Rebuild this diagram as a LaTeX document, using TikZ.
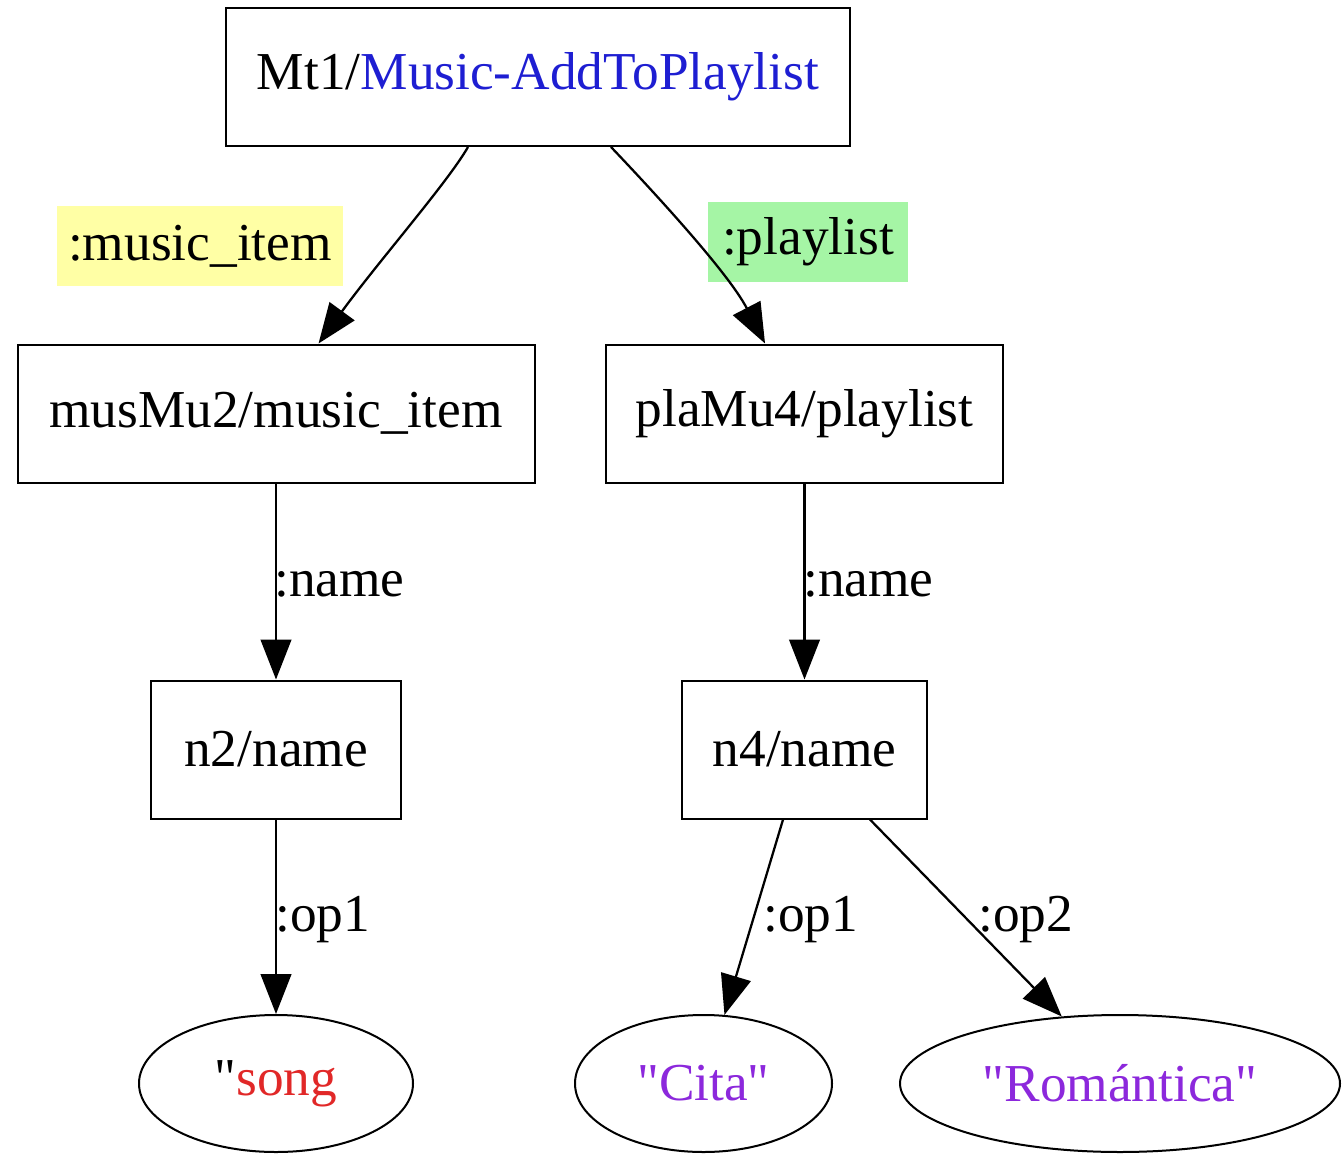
\documentclass[tikz,border=0pt]{standalone}
\usepackage{fontspec}
\setmainfont{Liberation Serif}[Ligatures=TeXOff]
\usetikzlibrary{arrows.meta,shapes.geometric}

\definecolor{conceptblue}{RGB}{30,30,210}
\definecolor{wordred}{RGB}{225,40,40}
\definecolor{wordpurple}{RGB}{140,40,220}
\definecolor{roleyellow}{RGB}{255,255,165}
\definecolor{rolegreen}{RGB}{165,245,165}

\tikzset{
  every node/.style={font=\fontsize{40pt}{48pt}\selectfont, inner sep=0pt},
  box/.style={draw, line width=1.5pt, rectangle, minimum height=103.5pt},
  leaf/.style={draw, line width=1.5pt, ellipse, minimum height=102.75pt},
  role/.style={anchor=base west},
  rolebox/.style={rectangle, minimum height=60pt},
  arr/.style={line width=1.7pt, -{Triangle[length=30pt,width=23pt]}},
}

\begin{document}
\begin{tikzpicture}[x=0.75pt, y=-0.75pt]
  \useasboundingbox (0,0) rectangle (1342,1159);

  % concept nodes
  \node[box, minimum width=468pt] (mt1) at (538,77)
    {Mt1/\textcolor{conceptblue}{Music-AddToPlaylist}};
  \node[box, minimum width=387.75pt] (mus) at (276,413.5) {musMu2/music\_item};
  \node[box, minimum width=297.75pt] (pla) at (804.5,413.5) {plaMu4/playlist};
  \node[box, minimum width=187.5pt] (n2) at (276,749.5) {n2/name};
  \node[box, minimum width=183.75pt] (n4) at (804.5,749.5) {n4/name};

  % string leaves
  \node[leaf, minimum width=205.5pt] (song) at (276,1083.5)
    {"\textcolor{wordred}{song}};
  \node[leaf, minimum width=192.75pt, text=wordpurple] (cita) at (703.5,1083.5) {"Cita"};
  \node[leaf, minimum width=330pt, text=wordpurple] (rom) at (1120,1083.5) {"Romántica"};

  % role labels
  \node[rolebox, fill=roleyellow, minimum width=214.5pt] (lmus) at (200,246) {:music\_item};
  \node[rolebox, fill=rolegreen, minimum width=150pt] (lpla) at (808,242) {:playlist};
  \node[role] (lname2) at (274,596) {:name};
  \node[role] (lname4) at (803,596) {:name};
  \node[role] (lop1a) at (275,931) {:op1};
  \node[role] (lop1b) at (763,931) {:op1};
  \node[role] (lop2) at (978,931) {:op2};

  % relations
  \draw[arr] ([xshift=-52.5pt]mt1.south) .. controls (448,182) and (378,262) .. ([xshift=31.9pt]mus.north);
  \draw[arr] ([xshift=54.75pt]mt1.south) .. controls (650,188) and (728,272) .. ([xshift=-29.6pt]pla.north);
  \draw[arr] (mus.south) -- (n2.north);
  \draw[arr] (pla.south) -- (n4.north);
  \draw[arr] (n2.south) -- (song.north);
  \draw[arr] ([xshift=-16.1pt]n4.south) -- (cita.73);
  \draw[arr] ([xshift=49.1pt]n4.south) -- (rom.131);
\end{tikzpicture}
\end{document}
